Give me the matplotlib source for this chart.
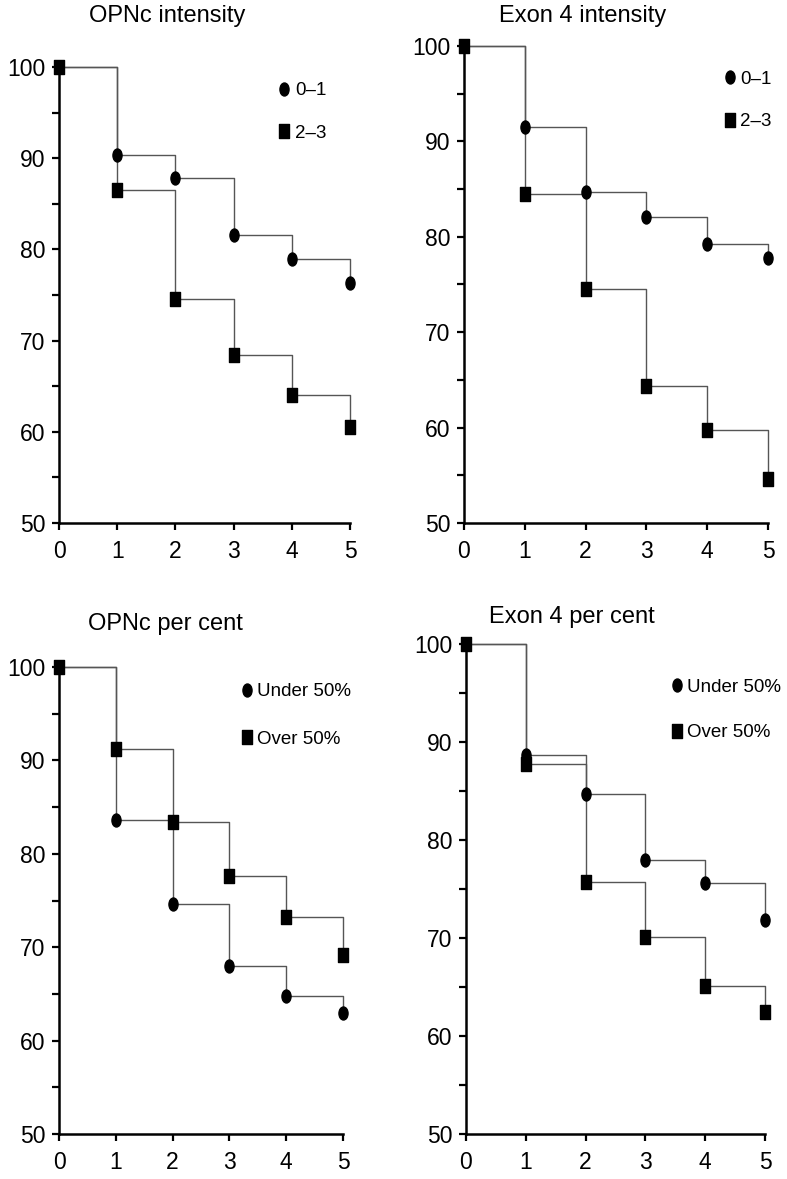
import matplotlib
matplotlib.use('Agg')
import matplotlib.pyplot as plt
from matplotlib.path import Path
from matplotlib.transforms import Affine2D
from matplotlib.lines import Line2D
from matplotlib.ticker import MultipleLocator

plt.rcParams['font.family'] = ['Liberation Sans', 'DejaVu Sans']

# survival (%) at each year
years = [0, 1, 2, 3, 4, 5]
opnc_int_low = [100, 90.4, 87.8, 81.6, 79.0, 76.3]
opnc_int_high = [100, 86.5, 74.6, 68.4, 64.0, 60.5]
exon4_int_low = [100, 91.5, 84.7, 82.1, 79.2, 77.8]
exon4_int_high = [100, 84.5, 74.5, 64.4, 59.7, 54.6]
opnc_pct_under = [100, 83.6, 74.6, 68.0, 64.8, 63.0]
opnc_pct_over = [100, 91.2, 83.4, 77.6, 73.2, 69.2]
exon4_pct_under = [100, 88.7, 84.7, 78.0, 75.6, 71.8]
exon4_pct_over = [100, 87.8, 75.7, 70.1, 65.1, 62.5]

int_labels = ['0\u20131', '2\u20133']
pct_labels = ['Under 50%', 'Over 50%']

# tall ellipse and tall rectangle markers, like the printed figure
ellipse = Path.unit_circle().transformed(Affine2D().scale(0.7, 1.0))
rect = Path([(-0.36, -0.5), (0.36, -0.5), (0.36, 0.5), (-0.36, 0.5), (-0.36, -0.5)],
            [Path.MOVETO, Path.LINETO, Path.LINETO, Path.LINETO, Path.CLOSEPOLY])

W, H = 787, 1179
fig = plt.figure(figsize=(W / 100, H / 100), dpi=100)


def px_axes(x0, x1, y_top, y_bot):
    return fig.add_axes([x0 / W, 1 - y_bot / H, (x1 - x0) / W, (y_bot - y_top) / H])


def km_panel(ax, s_circ, s_sq, labels, title, title_xy, leg_anchor, leg_spacing):
    for s, m, ms in [(s_circ, ellipse, 13), (s_sq, rect, 14)]:
        ax.plot(years, s, drawstyle='steps-post', color='#555555', lw=1.0, clip_on=False, zorder=2)
        ax.plot(years, s, ls='none', marker=m, ms=ms * 0.72, color='black', clip_on=False, zorder=3)

    ax.set_xlim(0, 5)
    ax.set_ylim(50, 100)
    ax.xaxis.set_major_locator(MultipleLocator(1))
    ax.yaxis.set_major_locator(MultipleLocator(10))
    ax.yaxis.set_minor_locator(MultipleLocator(5))
    ax.tick_params(axis='both', which='both', direction='out', length=5, width=1.6,
                   labelsize=16.5, pad=5)
    ax.tick_params(axis='x', pad=7)
    for side in ['top', 'right']:
        ax.spines[side].set_visible(False)
    for side in ['left', 'bottom']:
        ax.spines[side].set_linewidth(1.8)
    ax.patch.set_alpha(0)

    handles = [Line2D([], [], ls='none', marker=ellipse, ms=13 * 0.72, color='black'),
               Line2D([], [], ls='none', marker=rect, ms=14 * 0.72, color='black')]
    ax.legend(handles, labels, loc='upper left', bbox_to_anchor=leg_anchor, frameon=False,
              fontsize=13.5, handlelength=0.8, handletextpad=0.15, borderpad=0,
              borderaxespad=0, labelspacing=leg_spacing)

    fig.text(title_xy[0] / W, 1 - title_xy[1] / H, title, ha='center', va='center', fontsize=17)


ax1 = px_axes(59, 350, 67, 523)
km_panel(ax1, opnc_int_low, opnc_int_high, int_labels, 'OPNc intensity', (167, 16),
         (0.749, 0.967), 1.35)

ax2 = px_axes(464, 768, 46, 523)
km_panel(ax2, exon4_int_low, exon4_int_high, int_labels, 'Exon 4 intensity', (583, 16),
         (0.849, 0.948), 1.35)

ax3 = px_axes(59, 343, 667, 1134)
km_panel(ax3, opnc_pct_under, opnc_pct_over, pct_labels, 'OPNc per cent', (165, 624),
         (0.634, 0.965), 1.6)

ax4 = px_axes(466, 765, 644, 1134)
km_panel(ax4, exon4_pct_under, exon4_pct_over, pct_labels, 'Exon 4 per cent', (572, 617),
         (0.679, 0.929), 1.5)

fig.savefig('out.png', dpi=100)
